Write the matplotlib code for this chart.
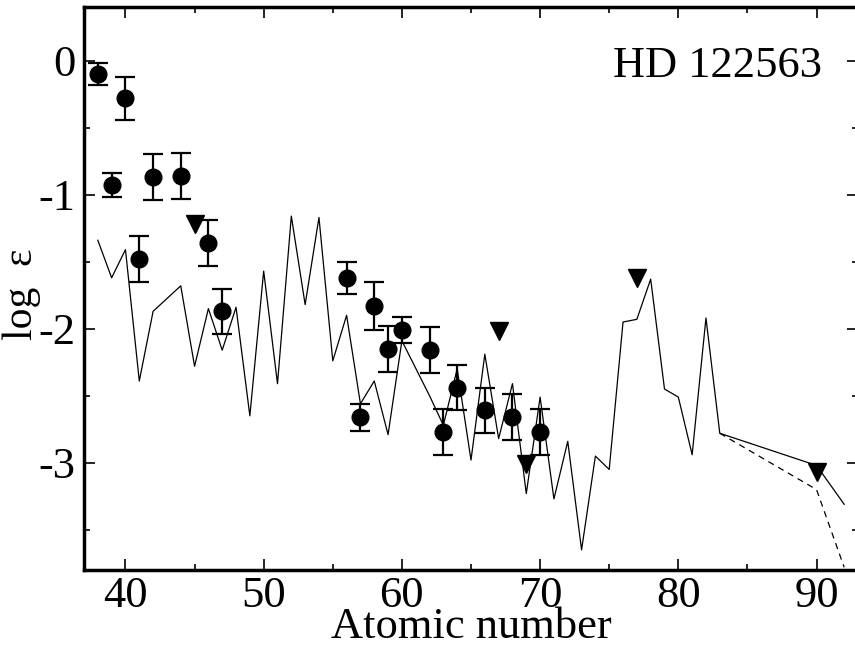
import matplotlib.pyplot as plt
from matplotlib.ticker import MultipleLocator, FuncFormatter

plt.rcParams['font.family'] = ['Liberation Serif', 'DejaVu Serif']
plt.rcParams['axes.unicode_minus'] = False

# measured abundances (filled circles with errors)
obs_z = [38, 39, 40, 41, 42, 44, 46, 47, 56, 57, 58, 59, 60, 62, 63, 64, 66, 68, 70]
obs_logeps = [-0.10, -0.93, -0.28, -1.48, -0.87, -0.86, -1.36, -1.87, -1.62, -2.66,
              -1.83, -2.15, -2.01, -2.16, -2.77, -2.44, -2.61, -2.66, -2.77]
obs_err = [0.08, 0.09, 0.16, 0.17, 0.17, 0.17, 0.17, 0.17, 0.12, 0.10,
           0.18, 0.17, 0.10, 0.17, 0.17, 0.17, 0.17, 0.17, 0.17]

# upper limits (down triangles)
lim_z = [45, 67, 69, 77, 90]
lim_logeps = [-1.22, -2.02, -3.01, -1.62, -3.07]

# scaled solar r-process pattern
model_z = [38, 39, 40, 41, 42, 44, 45, 46, 47, 48, 49, 50, 51, 52, 53, 54, 55, 56,
           57, 58, 59, 60, 62, 63, 64, 65, 66, 67, 68, 69, 70, 71, 72, 73, 74, 75,
           76, 77, 78, 79, 80, 81, 82, 83, 90, 92]
model_logeps = [-1.34, -1.62, -1.41, -2.39, -1.87, -1.68, -2.28, -1.85, -2.16, -1.84,
                -2.65, -1.57, -2.41, -1.16, -1.82, -1.17, -2.24, -1.90, -2.56, -2.39,
                -2.79, -2.09, -2.50, -2.72, -2.30, -2.98, -2.19, -2.82, -2.41, -3.23,
                -2.51, -3.27, -2.84, -3.65, -2.95, -3.05, -1.95, -1.93, -1.63, -2.45,
                -2.51, -2.94, -1.92, -2.78, -3.02, -3.31]

# decayed Th/U branch
decay_z = [83, 90, 92]
decay_logeps = [-2.78, -3.20, -3.78]

fig = plt.figure(figsize=(8.55, 6.48), dpi=100)
ax = fig.add_axes([84 / 855, 1 - 570 / 648, 774 / 855, 563 / 648])

ax.plot(model_z, model_logeps, color='black', lw=0.9)
ax.plot(decay_z, decay_logeps, color='black', lw=0.9, ls=(0, (5, 4)))
ax.errorbar(obs_z, obs_logeps, yerr=obs_err, fmt='o', color='black', ms=12,
            elinewidth=1.6, capsize=7, capthick=1.6, zorder=3)
ax.plot(lim_z, lim_logeps, 'v', color='black', ms=13, zorder=3)

ax.text(90.4, -0.12, 'HD 122563', fontsize=32, ha='right', va='baseline')

ax.set_xlim(37, 93)
ax.set_ylim(-3.8, 0.4)
ax.xaxis.set_major_locator(MultipleLocator(10))
ax.xaxis.set_minor_locator(MultipleLocator(5))
ax.yaxis.set_major_locator(MultipleLocator(1))
ax.yaxis.set_minor_locator(MultipleLocator(0.5))
ax.yaxis.set_major_formatter(FuncFormatter(lambda v, p: '%d' % round(v)))
ax.tick_params(which='both', direction='in', top=True, right=True, width=1.2,
               labelsize=32, pad=4)
ax.tick_params(axis='y', pad=6)
ax.tick_params(which='major', length=8)
ax.tick_params(which='minor', length=4.5)
for s in ax.spines.values():
    s.set_linewidth(2.5)

ax.set_xlabel('Atomic number', fontsize=32, labelpad=-6)
ax.set_ylabel('log  ε', fontsize=30)
ax.yaxis.set_label_coords(-0.056, 0.49)

fig.savefig('out.png', dpi=100)
